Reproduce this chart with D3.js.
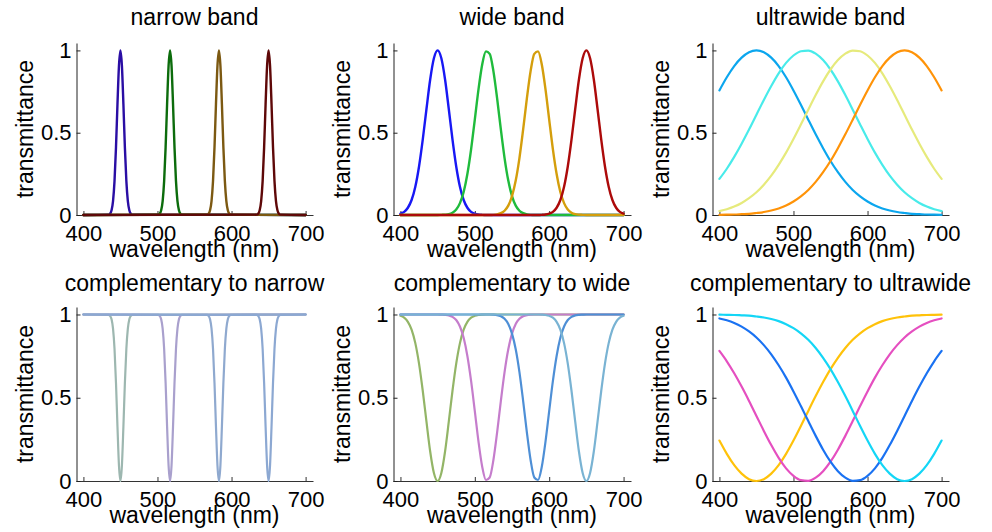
<!DOCTYPE html>
<html><head><meta charset="utf-8">
<script src="https://cdn.jsdelivr.net/npm/d3@7/dist/d3.min.js"></script>
<style>
body{margin:0;background:#fff;}
svg text{font-family:"Liberation Sans", Arial, Helvetica, sans-serif;fill:#000;}
</style></head><body>
<svg id="chart" width="992" height="532"></svg>
<script>
// ---------- data ----------
const titles = ["narrow band","wide band","ultrawide band","complementary to narrow","complementary to wide","complementary to ultrawide"];
const xLabel = "wavelength (nm)";
const yLabel = "transmittance";
const xTicks = [400,500,600,700];
const yTicks = [0,0.5,1];
const yTickLabels = ["0","0.5","1"];

// narrow band (per-series sample wavelengths)
const narrowBlueWl  = [400,434,436,438,440,442,444,446,448,450,452,454,456,458,460,462,464,466,700];
const narrowGreenWl = [400,501,503,505,507,509,511,513,515,517,519,521,523,525,527,529,531,533,700];
const narrowGoldWl  = [400,567,569,571,573,575,577,579,581,583,585,587,589,591,593,595,597,599,700];
const narrowRedWl   = [400,634,636,638,640,642,644,646,648,650,652,654,656,658,660,662,664,666,700];
const narrowBlue  = [0,0.002,0.008,0.029,0.085,0.206,0.411,0.674,0.906,1,0.906,0.674,0.411,0.206,0.085,0.029,0.008,0.002,0];
const narrowGreen = [0,0.002,0.008,0.029,0.085,0.206,0.411,0.674,0.906,1,0.906,0.674,0.411,0.206,0.085,0.029,0.008,0.002,0];
const narrowGold  = [0,0.002,0.008,0.029,0.085,0.206,0.411,0.674,0.906,1,0.906,0.674,0.411,0.206,0.085,0.029,0.008,0.002,0];
const narrowRed   = [0,0.002,0.008,0.029,0.085,0.206,0.411,0.674,0.906,1,0.906,0.674,0.411,0.206,0.085,0.029,0.008,0.002,0];
const compNarrowA = [1,0.998,0.992,0.971,0.915,0.794,0.589,0.326,0.094,0,0.094,0.326,0.589,0.794,0.915,0.971,0.992,0.998,1];
const compNarrowB = [1,0.998,0.992,0.971,0.915,0.794,0.589,0.326,0.094,0,0.094,0.326,0.589,0.794,0.915,0.971,0.992,0.998,1];
const compNarrowC = [1,0.998,0.992,0.971,0.915,0.794,0.589,0.326,0.094,0,0.094,0.326,0.589,0.794,0.915,0.971,0.992,0.998,1];
const compNarrowD = [1,0.998,0.992,0.971,0.915,0.794,0.589,0.326,0.094,0,0.094,0.326,0.589,0.794,0.915,0.971,0.992,0.998,1];

// wide band (sampled every 5 nm, 400..700)
const wideWl = d3.range(400, 701, 5);
const wideBlue  = [0.008,0.019,0.044,0.091,0.172,0.295,0.458,0.644,0.823,0.952,1,0.952,0.823,0.644,0.458,0.295,0.172,0.091,0.044,0.019,0.008,0.003,0.001,
  0,0,0,0,0,0,0,0,0,0, 0,0,0,0,0,0,0,0,0,0, 0,0,0,0,0,0,0,0,0,0, 0,0,0,0,0,0,0,0];
const wideGreen = [0,0,0,0,0,0,0,0,0,0,0,
  0.001,0.002,0.005,0.014,0.033,0.072,0.140,0.249,0.399,0.580,0.765,0.916,0.994,0.979,0.874,0.708,0.520,0.346,0.209,0.115,0.057,0.026,0.011,0.004,0.001,
  0,0,0,0,0,0,0,0,0,0, 0,0,0,0,0,0,0,0,0,0, 0,0,0,0,0];
const wideGold  = [0,0,0,0,0,0,0,0,0,0, 0,0,0,0,0,0,0,0,0,0, 0,0,0,0,0,
  0.001,0.004,0.011,0.026,0.057,0.115,0.209,0.346,0.520,0.708,0.874,0.979,0.994,0.916,0.765,0.580,0.399,0.249,0.140,0.072,0.033,0.014,0.005,0.002,0.001,
  0,0,0,0,0,0,0,0,0,0,0];
const wideRed   = [0,0,0,0,0,0,0,0,0,0, 0,0,0,0,0,0,0,0,0,0, 0,0,0,0,0,0,0,0,0,0, 0,0,0,0,0,0,0,0,
  0.001,0.003,0.008,0.019,0.044,0.091,0.172,0.295,0.458,0.644,0.823,0.952,1,0.952,0.823,0.644,0.458,0.295,0.172,0.091,0.044,0.019,0.008];
const compWideA = [0.992,0.981,0.956,0.909,0.828,0.705,0.542,0.356,0.177,0.048,0,0.048,0.177,0.356,0.542,0.705,0.828,0.909,0.956,0.981,0.992,0.997,0.999,
  1,1,1,1,1,1,1,1,1,1, 1,1,1,1,1,1,1,1,1,1, 1,1,1,1,1,1,1,1,1,1, 1,1,1,1,1,1,1,1];
const compWideB = [1,1,1,1,1,1,1,1,1,1,1,
  0.999,0.998,0.995,0.986,0.967,0.928,0.860,0.751,0.601,0.420,0.235,0.084,0.006,0.021,0.126,0.292,0.480,0.654,0.791,0.885,0.943,0.974,0.989,0.996,0.999,
  1,1,1,1,1,1,1,1,1,1, 1,1,1,1,1,1,1,1,1,1, 1,1,1,1,1];
const compWideC = [1,1,1,1,1,1,1,1,1,1, 1,1,1,1,1,1,1,1,1,1, 1,1,1,1,1,
  0.999,0.996,0.989,0.974,0.943,0.885,0.791,0.654,0.480,0.292,0.126,0.021,0.006,0.084,0.235,0.420,0.601,0.751,0.860,0.928,0.967,0.986,0.995,0.998,0.999,
  1,1,1,1,1,1,1,1,1,1,1];
const compWideD = [1,1,1,1,1,1,1,1,1,1, 1,1,1,1,1,1,1,1,1,1, 1,1,1,1,1,1,1,1,1,1, 1,1,1,1,1,1,1,1,
  0.999,0.997,0.992,0.981,0.956,0.909,0.828,0.705,0.542,0.356,0.177,0.048,0,0.048,0.177,0.356,0.542,0.705,0.828,0.909,0.956,0.981,0.992];

// ultrawide band (sampled every 10 nm, 400..700)
const ultraWl = d3.range(400, 701, 10);
const ultraBlue   = [0.757,0.837,0.905,0.956,0.989,1,0.989,0.956,0.905,0.837,0.757,0.670,0.579,0.490,0.406,0.328,0.260,0.201,0.152,0.113,0.082,0.058,0.040,0.027,0.018,0.012,0.007,0.005,0.003,0.002,0.001];
const ultraCyan   = [0.219,0.281,0.353,0.433,0.519,0.609,0.699,0.784,0.861,0.924,0.969,0.995,0.999,0.980,0.941,0.884,0.812,0.729,0.640,0.550,0.462,0.379,0.305,0.239,0.184,0.138,0.102,0.073,0.051,0.035,0.024];
const ultraYellow = [0.024,0.035,0.051,0.073,0.102,0.138,0.184,0.239,0.305,0.379,0.462,0.550,0.640,0.729,0.812,0.884,0.941,0.980,0.999,0.995,0.969,0.924,0.861,0.784,0.699,0.609,0.519,0.433,0.353,0.281,0.219];
const ultraOrange = [0.001,0.002,0.003,0.005,0.007,0.012,0.018,0.027,0.040,0.058,0.082,0.113,0.152,0.201,0.260,0.328,0.406,0.490,0.579,0.670,0.757,0.837,0.905,0.956,0.989,1,0.989,0.956,0.905,0.837,0.757];
const compUltraA = [0.243,0.163,0.095,0.044,0.011,0,0.011,0.044,0.095,0.163,0.243,0.330,0.421,0.510,0.594,0.672,0.740,0.799,0.848,0.887,0.918,0.942,0.960,0.973,0.982,0.988,0.993,0.995,0.997,0.998,0.999];
const compUltraB = [0.781,0.719,0.647,0.567,0.481,0.391,0.301,0.216,0.139,0.076,0.031,0.005,0.001,0.020,0.059,0.116,0.188,0.271,0.360,0.450,0.538,0.621,0.695,0.761,0.816,0.862,0.898,0.927,0.949,0.965,0.976];
const compUltraC = [0.976,0.965,0.949,0.927,0.898,0.862,0.816,0.761,0.695,0.621,0.538,0.450,0.360,0.271,0.188,0.116,0.059,0.020,0.001,0.005,0.031,0.076,0.139,0.216,0.301,0.391,0.481,0.567,0.647,0.719,0.781];
const compUltraD = [0.999,0.998,0.997,0.995,0.993,0.988,0.982,0.973,0.960,0.942,0.918,0.887,0.848,0.799,0.740,0.672,0.594,0.510,0.421,0.330,0.243,0.163,0.095,0.044,0.011,0,0.011,0.044,0.095,0.163,0.243];

const narrowColors     = ["#2a0ea4","#0c6c0c","#7c5912","#5e0808"];
const wideColors       = ["#1818f4","#1fbb3c","#d49e0c","#ac0a0a"];
const ultraColors      = ["#0ba6ee","#48ebea","#e6ea7c","#ff9308"];
const compNarrowColors = ["#9db7b0","#a9a0cd","#8fa9cf","#8ca8d2"];
const compWideColors   = ["#93b567","#c57dcc","#4e8fd6","#79b3d3"];
const compUltraColors  = ["#ffc20a","#e54fc0","#1a72f2","#14d6f6"];

// ---------- drawing ----------
const svg = d3.select("#chart");
const cols = [{l:76, r:313}, {l:393, r:631}, {l:712, r:949}];
const rows = [{t:43, b:215, titleY:25}, {t:307, b:481, titleY:291}];
const yMax = 1.045;
const xDomain = [390, 710];
const FS = 23, TFS = 22;

const panels = [
  {row:0, col:0, title:titles[0], colors:narrowColors, w:2.4,
   series:[[narrowBlueWl,narrowBlue],[narrowGreenWl,narrowGreen],[narrowGoldWl,narrowGold],[narrowRedWl,narrowRed]]},
  {row:0, col:1, title:titles[1], colors:wideColors, w:2.4,
   series:[[wideWl,wideBlue],[wideWl,wideGreen],[wideWl,wideGold],[wideWl,wideRed]]},
  {row:0, col:2, title:titles[2], colors:ultraColors, w:2.2,
   series:[[ultraWl,ultraBlue],[ultraWl,ultraCyan],[ultraWl,ultraYellow],[ultraWl,ultraOrange]]},
  {row:1, col:0, title:titles[3], colors:compNarrowColors, w:2.2,
   series:[[narrowBlueWl,compNarrowA],[narrowGreenWl,compNarrowB],[narrowGoldWl,compNarrowC],[narrowRedWl,compNarrowD]]},
  {row:1, col:1, title:titles[4], colors:compWideColors, w:2.2,
   series:[[wideWl,compWideA],[wideWl,compWideB],[wideWl,compWideC],[wideWl,compWideD]]},
  {row:1, col:2, title:titles[5], colors:compUltraColors, w:2.2,
   series:[[ultraWl,compUltraA],[ultraWl,compUltraB],[ultraWl,compUltraC],[ultraWl,compUltraD]]}
];

panels.forEach(p => {
  const c = cols[p.col], r = rows[p.row];
  const x = d3.scaleLinear().domain(xDomain).range([c.l, c.r]);
  const y = d3.scaleLinear().domain([0, yMax]).range([r.b, r.t]);
  const g = svg.append("g");

  // x axis
  const xa = g.append("g").attr("transform", `translate(0,${r.b})`)
    .call(d3.axisBottom(x).tickValues(xTicks).tickFormat(d3.format("d")).tickSizeInner(-4).tickSizeOuter(0).tickPadding(10));
  xa.selectAll("path.domain").attr("stroke", "#333").attr("stroke-width", 1);
  xa.selectAll(".tick line").attr("stroke", "#333");
  xa.selectAll("text").attr("font-size", TFS).attr("font-family", null);
  xa.attr("font-size", null).attr("font-family", null);

  // y axis
  const ya = g.append("g").attr("transform", `translate(${c.l + 0.5},0)`)
    .call(d3.axisLeft(y).tickValues(yTicks).tickFormat((d,i) => yTickLabels[i]).tickSizeInner(-4).tickSizeOuter(0).tickPadding(5));
  ya.selectAll("path.domain").attr("stroke", "#222").attr("stroke-width", 1);
  ya.selectAll(".tick line").attr("stroke", "#222");
  ya.selectAll("text").attr("font-size", TFS).attr("font-family", null);
  ya.attr("font-size", null).attr("font-family", null);

  // curves
  const line = d3.line().x(d => x(d[0])).y(d => y(d[1])).curve(d3.curveMonotoneX);
  p.series.forEach((s, i) => {
    const pts = s[0].map((wl, k) => [wl, s[1][k]]);
    g.append("path").datum(pts).attr("d", line)
      .attr("fill", "none").attr("stroke", p.colors[i]).attr("stroke-width", p.w)
      .attr("stroke-linejoin", "round").attr("stroke-linecap", "round");
  });

  // title
  const cx = (c.l + c.r) / 2;
  g.append("text").attr("x", cx).attr("y", r.titleY).attr("text-anchor", "middle")
    .attr("font-size", FS).text(p.title);
  // x label
  g.append("text").attr("x", cx).attr("y", r.b + 42).attr("text-anchor", "middle")
    .attr("font-size", FS).text(xLabel);
  // y label
  const cy = (r.t + r.b) / 2;
  g.append("text").attr("transform", `translate(${c.l - 43},${cy}) rotate(-90)`)
    .attr("text-anchor", "middle").attr("font-size", FS).text(yLabel);
});
</script>
</body></html>
